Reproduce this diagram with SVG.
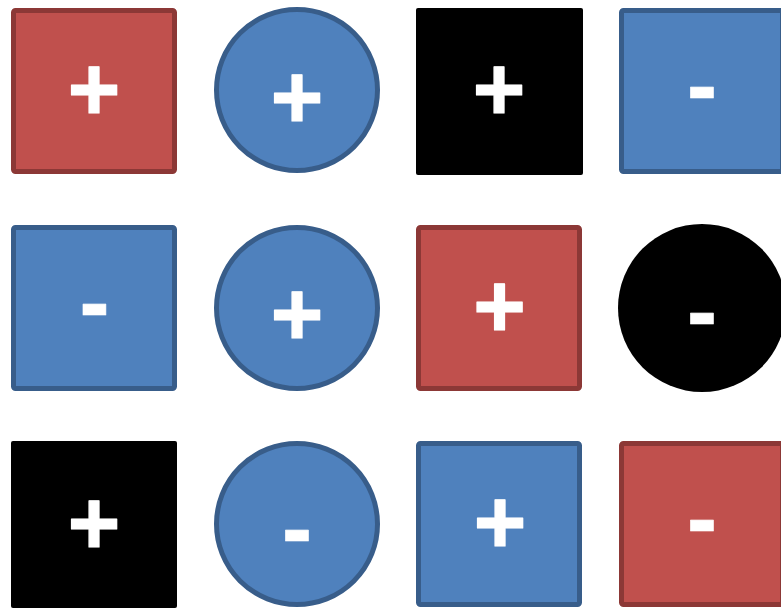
<svg xmlns="http://www.w3.org/2000/svg" width="781" height="608" viewBox="0 0 781 608">
<style>
.red{fill:#C0504D;stroke:#8C3836;stroke-width:5}
.blue{fill:#4F81BD;stroke:#385D8A;stroke-width:5}
.blk{fill:#000}
.s{fill:#fff;stroke:#fff;stroke-width:1.2;stroke-linejoin:round;font-family:"Liberation Sans",Arial,sans-serif;font-weight:bold;font-size:90px;text-anchor:middle}
.m{stroke-width:0.6}
</style>
<rect width="781" height="608" fill="#fff"/>
<g id="n1"><rect class="red" x="13.5" y="10.5" width="161" height="161" rx="2"/><text class="s" x="94" y="120">+</text></g>
<g id="n2"><circle class="blue" cx="297" cy="90" r="80.5"/><text class="s" x="297" y="128">+</text></g>
<g id="n3"><rect class="blk" x="416" y="8" width="167" height="167" rx="2"/><text class="s" x="499" y="120">+</text></g>
<g id="n4"><rect class="blue" x="621.5" y="10.5" width="161" height="161" rx="2"/><text class="s m" x="702" y="116">-</text></g>
<g id="n5"><rect class="blue" x="13.5" y="227.5" width="161" height="161" rx="2"/><text class="s m" x="94.5" y="333">-</text></g>
<g id="n6"><circle class="blue" cx="297" cy="308" r="80.5"/><text class="s" x="297" y="345">+</text></g>
<g id="n7"><rect class="red" x="418.5" y="227.5" width="161" height="161" rx="2"/><text class="s" x="499.5" y="336.5">+</text></g>
<g id="n8"><circle class="blk" cx="702" cy="308" r="84"/><text class="s m" x="702" y="342">-</text></g>
<g id="n9"><rect class="blk" x="11" y="441" width="166" height="167" rx="2"/><text class="s" x="94" y="553.5">+</text></g>
<g id="n10"><circle class="blue" cx="297" cy="524" r="80.5"/><text class="s m" x="297" y="558.5">-</text></g>
<g id="n11"><rect class="blue" x="418.5" y="443.5" width="161" height="161" rx="2"/><text class="s" x="500" y="553">+</text></g>
<g id="n12"><rect class="red" x="621.5" y="443.5" width="161" height="161" rx="2"/><text class="s m" x="702" y="549">-</text></g>
<g id="connectors"/>
</svg>
